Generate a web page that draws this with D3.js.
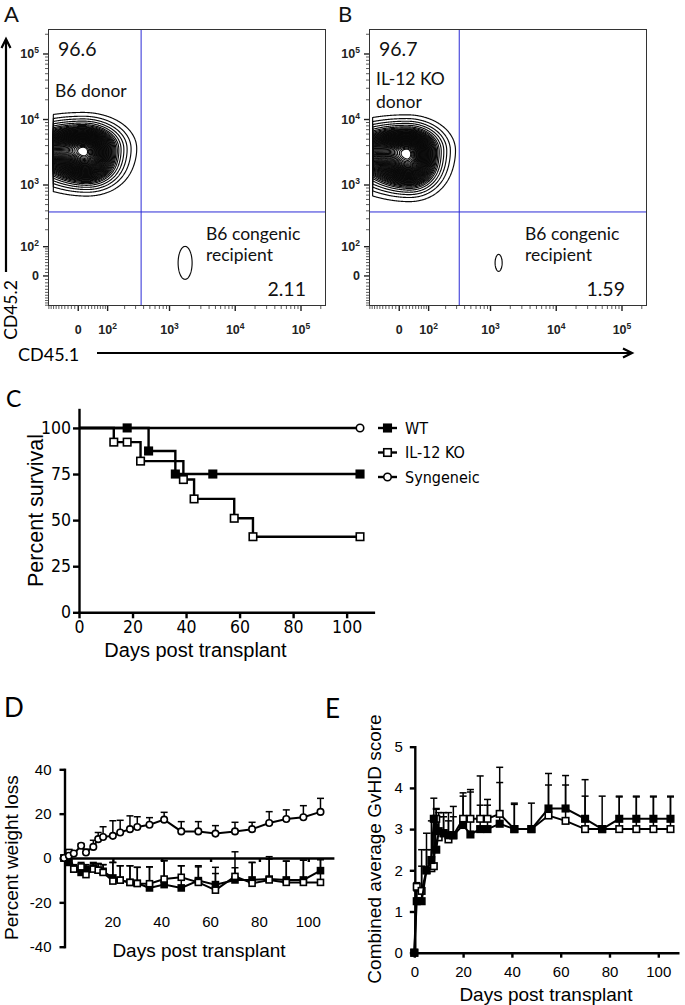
<!DOCTYPE html>
<html><head><meta charset="utf-8">
<script src="https://cdn.jsdelivr.net/npm/d3@7"></script>
<style>
html,body{margin:0;padding:0;background:#fff;}
svg{display:block;}
</style></head>
<body><svg id="c" width="685" height="1005"></svg>
<script>
// ================= DATA =================
// --- A / B : flow cytometry (CD45.1 vs CD45.2) ---
const flowTickValues = [0, 100, 1000, 10000, 100000];
const flowTickBase   = ["0", "10", "10", "10", "10"];
const flowTickExp    = ["", "2", "3", "4", "5"];
// populations: [centre CD45.1 (raw), centre CD45.2 (raw), spread left, right, up, down (decades), lowest CD45.1 (raw)]
const donorA     = [14, 3680, 0.45, 0.27, 0.18, 0.22, -81];
const donorTailA = [30, 1900, 0.30, 0.22, 0.15, 0.16, -81];
const recipientA = [1728, 39, 0.0495, 0.0495, 0.117, 0.117, -81];
const donorB     = [22, 3428, 0.45, 0.245, 0.178, 0.24, -88];
const donorTailB = [35, 1700, 0.30, 0.2, 0.15, 0.17, -88];
const recipientB = [1329, 39, 0.0248, 0.0248, 0.060, 0.060, -88];
const tailWeight = [0.35];
const gateA = [366, 384];   // CD45.1, CD45.2 quadrant gate
const gateB = [330, 384];
const pctA = ["96.6", "2.11"];
const pctB = ["96.7", "1.59"];
const donorLabelA = ["B6 donor"];
const donorLabelB = ["IL-12 KO", "donor"];
const recipientLabel = ["B6 congenic", "recipient"];
const contourLevels = [0.01, 0.025, 0.045, 0.07, 0.1, 0.13, 0.155, 0.18, 0.2, 0.22, 0.24, 0.26, 0.28, 0.3, 0.32, 0.34,
  0.36, 0.38, 0.4, 0.42, 0.44, 0.46, 0.48, 0.5, 0.52, 0.54, 0.56, 0.58, 0.6, 0.62, 0.64, 0.66, 0.68, 0.7, 0.72,
  0.74, 0.76, 0.78, 0.8, 0.82, 0.84, 0.86, 0.88, 0.9, 0.92, 0.94, 0.96, 0.975];
const recipientLevels = [0.1];

// --- C : survival ---
const survXTicks = [0, 20, 40, 60, 80, 100];
const survYTicks = [0, 25, 50, 75, 100];
const wtSurvDays = [0, 26, 36, 105];
const wtSurvPct  = [100, 87.5, 75, 75];
const wtMarkDays = [18, 26, 36, 50, 105];
const wtMarkPct  = [100, 87.5, 75, 75, 75];
const koSurvDays = [0, 13, 23, 39, 43, 58, 65, 105];
const koSurvPct  = [100, 92.3, 82, 72, 61.5, 51, 41, 41];
const koMarkDays = [13, 18, 23, 39, 43, 58, 65, 105];
const koMarkPct  = [92.3, 92.3, 82, 72, 61.5, 51, 41, 41];
const synSurvDays = [0, 105];
const synSurvPct  = [100, 100];
const synMarkDays = [105];
const synMarkPct  = [100];
const legendNames = ["WT", "IL-12 KO", "Syngeneic"];

// --- D : percent weight loss ---
const weightXTicks = [20, 40, 60, 80, 100];
const weightYTicks = [-40, -20, 0, 20, 40];
const weightDays = [0, 2, 4, 7, 9, 12, 14, 16, 20, 23, 27, 30, 35, 41, 48, 55, 62, 70, 77, 84, 91, 98, 105];
const synWeight  = [0, 1, 2, 5.5, 2.5, 5, 8.5, 9.5, 10, 11.5, 13, 14, 15, 17.3, 12, 12, 11, 12, 13, 15.8, 17.6, 18.4, 20.8];
const synWeightErr = [0, 1, 1, 1, 1.5, 3, 3, 4.6, 6.8, 5.5, 6, 4.6, 3.2, 3.3, 4.4, 4.4, 3.6, 4.1, 3.1, 5.1, 4.1, 5.2, 6.1];
const wtWeight   = [0, -2, -5, -6.5, -5, -4.5, -5.5, -6, -9, -10, -11, -11.4, -13.5, -12, -13.5, -10.2, -12, -9.9, -9.9, -9.5, -9.9, -9.9, -5.7];
const wtWeightErr = [0, 1, 1.5, 1.5, 2, 2, 3, 3, 7, 6.5, 7.5, 7.2, 9.5, 10.8, 10, 6.7, 7.8, 5.5, 7.9, 9, 8.5, 8.9, 5];
const koWeight   = [0, 2.5, -5, -4, -7.5, -5, -5.5, -6.5, -10.4, -10, -11, -11.5, -11.6, -9.5, -8.7, -11, -14.5, -8.3, -11.4, -9.9, -11, -11, -11];
const koWeightErr = [0, 1, 2, 2, 3, 3, 3, 3.5, 8.4, 6.5, 7.5, 7.3, 7.6, 8.3, 5.2, 7, 7.5, 11.1, 9.4, 10.5, 9.6, 10, 10.3];

// --- E : combined GvHD score ---
const scoreXTicks = [0, 20, 40, 60, 80, 100];
const scoreYTicks = [0, 1, 2, 3, 4, 5];
const scoreDays = [0, 1, 3, 5, 7, 8, 9, 10, 12, 14, 16, 20, 23, 27, 30, 35, 41, 48, 55, 62, 70, 77, 84, 91, 98, 105];
const wtScore = [0, 1.25, 1.25, 2.0, 2.25, 3.25, 2.5, 2.95, 2.9, 2.85, 2.85, 3.1, 2.87, 3.0, 3.0, 3.13, 3.0, 3.0, 3.5, 3.5, 3.25, 3.0, 3.25, 3.25, 3.25, 3.25];
const wtScoreErr = [0, 0.25, 1.25, 0.9, 0.95, 0.5, 0.98, 0.45, 0.5, 0.55, 0.7, 0.78, 1.09, 1.29, 0.72, 1.37, 0.63, 0.63, 0.85, 0.8, 0.95, 0.8, 0.55, 0.55, 0.55, 0.55];
const koScore = [0, 1.6, 1.5, 2.0, 2.05, 2.1, 3.25, 2.8, 2.9, 2.75, 2.85, 3.25, 3.25, 3.25, 3.25, 3.37, 3.0, 3.0, 3.33, 3.2, 3.0, 3.0, 3.0, 3.0, 3.0, 3.0];
const koScoreErr = [0, 0.1, 0.6, 0.5, 0.45, 0.8, 0.25, 0.5, 0.4, 0.45, 0.45, 0.55, 0.65, 0.33, 0.33, 0.76, 0.6, 0, 0.74, 0.87, 0.8, 0, 0.78, 0.78, 0.78, 0.78];

// ================= DRAWING =================
const svg = d3.select('#c');
const ARIAL = '"Liberation Sans", Arial, sans-serif';
const NARROW = '"Liberation Sans Narrow", "Arial Narrow", "DejaVu Sans Condensed", sans-serif';
const CAL = 'Lato, "Open Sans", sans-serif';

// ---------- flow panels ----------
const T = v => Math.asinh(v / 82) / Math.LN10;
const X_DOM = [-104, 231700], Y_DOM = [-99, 240600];

function minorTicks() {
  const t = [];
  for (let v = -100; v < 100; v += 10) if (v !== 0) t.push(v);
  for (let k = 2; k <= 5; k++) for (let m = 2; m <= 9; m++) { const v = m * Math.pow(10, k); if (v < 231000) t.push(v); }
  return t;
}

function splitGauss(p, u, v) {
  const [cx, cy, sL, sR, sU, sD] = p;
  const du = u - T(cx), dv = v - T(cy);
  const eu = Math.pow(du / (du < 0 ? sL : sR), 2), ev = Math.pow(dv / (dv > 0 ? sU : sD), 2);
  return Math.exp(-0.5 * (eu + ev));
}

function flowPanel(ox, pops, gate, pct, donorLabel, letter, letterX) {
  const g = svg.append('g');
  const x = d3.scaleLinear().domain([T(X_DOM[0]), T(X_DOM[1])]).range([ox, ox + 277]);
  const y = d3.scaleLinear().domain([T(Y_DOM[0]), T(Y_DOM[1])]).range([305, 29]);
  const step = 0.008;
  pops.forEach(([comps, weights, levels]) => {
    const minX = comps[0][6];
    const u0 = T(minX), u1 = x.domain()[1], v0 = y.domain()[0], v1 = y.domain()[1];
    const nx = Math.ceil((u1 - u0) / step), ny = Math.ceil((v1 - v0) / step);
    const vals = new Float64Array(nx * ny);
    let mx = 0;
    for (let j = 0; j < ny; j++) {
      const v = v0 + (j + 0.5) * step;
      for (let i = 0; i < nx; i++) {
        const u = u0 + (i + 0.5) * step;
        let s = 0;
        comps.forEach((c, k) => { s += weights[k] * splitGauss(c, u, v); });
        vals[j * nx + i] = s;
        if (s > mx) mx = s;
      }
    }
    for (let k = 0; k < vals.length; k++) vals[k] /= mx;
    const cs = d3.contours().size([nx, ny]).thresholds(levels)(vals);
    const proj = d3.geoTransform({ point(px, py) { this.stream.point(x(u0 + px * step), y(v0 + py * step)); } });
    const path = d3.geoPath(proj);
    g.append('g').selectAll('path').data(cs).join('path')
      .attr('d', path).attr('fill', 'none').attr('stroke', '#0a0a0a').attr('stroke-width', 1.15);
  });
  // quadrant gate
  g.append('line').attr('x1', x(T(gate[0]))).attr('x2', x(T(gate[0]))).attr('y1', 29).attr('y2', 305)
    .attr('stroke', '#2b2bd6').attr('stroke-width', 1);
  g.append('line').attr('x1', ox).attr('x2', ox + 277).attr('y1', y(T(gate[1]))).attr('y2', y(T(gate[1])))
    .attr('stroke', '#2b2bd6').attr('stroke-width', 1);
  // frame
  g.append('rect').attr('x', ox + 0.5).attr('y', 29.5).attr('width', 277).attr('height', 276)
    .attr('fill', 'none').attr('stroke', '#333').attr('stroke-width', 1);
  // ticks
  const minors = minorTicks();
  g.append('g').selectAll('line').data(minors).join('line')
    .attr('x1', d => x(T(d))).attr('x2', d => x(T(d))).attr('y1', 306).attr('y2', 309)
    .attr('stroke', '#333').attr('stroke-width', 0.8);
  g.append('g').selectAll('line').data(minors).join('line')
    .attr('y1', d => y(T(d))).attr('y2', d => y(T(d))).attr('x1', ox).attr('x2', ox - 3)
    .attr('stroke', '#333').attr('stroke-width', 0.8);
  g.append('g').selectAll('line').data(flowTickValues).join('line')
    .attr('x1', d => x(T(d))).attr('x2', d => x(T(d))).attr('y1', 306).attr('y2', 311)
    .attr('stroke', '#222').attr('stroke-width', 1.4);
  g.append('g').selectAll('line').data(flowTickValues).join('line')
    .attr('y1', d => y(T(d))).attr('y2', d => y(T(d))).attr('x1', ox).attr('x2', ox - 5)
    .attr('stroke', '#222').attr('stroke-width', 1.4);
  const tx = g.append('g').selectAll('text').data(flowTickValues).join('text')
    .attr('x', d => x(T(d))).attr('y', 334).attr('text-anchor', 'middle')
    .attr('font-family', ARIAL).attr('font-size', 12.5).attr('font-weight', 'bold').attr('fill', '#222');
  tx.append('tspan').text((d, i) => flowTickBase[i]);
  tx.append('tspan').attr('dy', -5.5).attr('font-size', 8.5).text((d, i) => flowTickExp[i]);
  const ty = g.append('g').selectAll('text').data(flowTickValues).join('text')
    .attr('x', ox - 9).attr('y', d => y(T(d)) + 4.5).attr('text-anchor', 'end')
    .attr('font-family', ARIAL).attr('font-size', 12.5).attr('font-weight', 'bold').attr('fill', '#222');
  ty.append('tspan').text((d, i) => flowTickBase[i]);
  ty.append('tspan').attr('dy', -5.5).attr('font-size', 8.5).text((d, i) => flowTickExp[i]);
  // texts
  const txt = (s, xx, yy, size, anchor) => g.append('text').attr('x', xx).attr('y', yy).text(s)
    .attr('font-family', CAL).attr('font-size', size).attr('text-anchor', anchor || 'start').attr('fill', '#111');
  txt(pct[0], ox + 10, 56, 19.5);
  donorLabel.forEach((s, i) => txt(s, ox + 7, (donorLabel.length === 1 ? 97 : 85) + i * 23, 17.5));
  recipientLabel.forEach((s, i) => txt(s, ox + (letter === 'A' ? 158 : 156), 239.5 + i * 21, 17.5));
  txt(pct[1], ox + (letter === 'A' ? 258 : 256), 296, 19.5, 'end');
  txt(letter, letterX, 22, 22);
}

flowPanel(48, [[[donorA, donorTailA], [1, tailWeight[0]], contourLevels], [[recipientA], [1], recipientLevels]], gateA, pctA, donorLabelA, 'A', 4);
flowPanel(369, [[[donorB, donorTailB], [1, tailWeight[0]], contourLevels], [[recipientB], [1], recipientLevels]], gateB, pctB, donorLabelB, 'B', 338);

// axis arrows
svg.append('line').attr('x1', 6).attr('x2', 6).attr('y1', 272).attr('y2', 40).attr('stroke', '#000').attr('stroke-width', 2.2);
svg.append('path').attr('d', 'M1.5,48 L6,39 L10.5,48').attr('fill', 'none').attr('stroke', '#000').attr('stroke-width', 2.2);
svg.append('line').attr('x1', 97).attr('x2', 631).attr('y1', 353).attr('y2', 353).attr('stroke', '#000').attr('stroke-width', 2.2);
svg.append('path').attr('d', 'M623,348.5 L632,353 L623,357.5').attr('fill', 'none').attr('stroke', '#000').attr('stroke-width', 2.2);
svg.append('text').attr('transform', 'translate(17,310) rotate(-90)').attr('text-anchor', 'middle')
  .attr('font-family', CAL).attr('font-size', 17.5).text('CD45.2');
svg.append('text').attr('x', 18).attr('y', 361).attr('font-family', CAL).attr('font-size', 18).text('CD45.1');

// ---------- helpers ----------
function styleAxis(sel, font, size, width) {
  sel.select('.domain').attr('stroke-width', width).attr('stroke-linecap', 'square');
  sel.selectAll('.tick line').attr('stroke-width', width);
  sel.selectAll('.tick text').attr('font-family', font).attr('font-size', size).attr('fill', '#000');
  sel.attr('font-family', null).attr('font-size', null);
}
function marker(g, type, cx, cy, s) {
  if (type === 'circle') {
    g.append('circle').attr('cx', cx).attr('cy', cy).attr('r', s / 2).attr('fill', '#fff').attr('stroke', '#000').attr('stroke-width', 1.6);
  } else {
    g.append('rect').attr('x', cx - s / 2).attr('y', cy - s / 2).attr('width', s).attr('height', s)
      .attr('fill', type === 'filled' ? '#000' : '#fff').attr('stroke', '#000').attr('stroke-width', 1.6);
  }
}
const intFmt = d => String(d);

// ---------- C: survival ----------
{
  const g = svg.append('g');
  const x = d3.scaleLinear().domain([0, 110]).range([79, 373.4]);
  const y = d3.scaleLinear().domain([0, 110]).range([612.3, 409.5]);
  const ax = g.append('g').attr('transform', 'translate(0,612.3)')
    .call(d3.axisBottom(x).tickValues(survXTicks).tickFormat(intFmt).tickSize(6).tickSizeOuter(0).tickPadding(2));
  styleAxis(ax, NARROW, 17.5, 2.4);
  const ay = g.append('g').attr('transform', 'translate(79,0)')
    .call(d3.axisLeft(y).tickValues(survYTicks).tickFormat(intFmt).tickSize(6).tickSizeOuter(0).tickPadding(2));
  styleAxis(ay, NARROW, 17.5, 2.4);
  const line = d3.line().x(d => x(d[0])).y(d => y(d[1])).curve(d3.curveStepAfter);
  const series = [
    [synSurvDays, synSurvPct, synMarkDays, synMarkPct, 'circle'],
    [koSurvDays, koSurvPct, koMarkDays, koMarkPct, 'open'],
    [wtSurvDays, wtSurvPct, wtMarkDays, wtMarkPct, 'filled']
  ];
  series.forEach(([d, p]) => {
    g.append('path').attr('d', line(d.map((v, i) => [v, p[i]]))).attr('fill', 'none').attr('stroke', '#000').attr('stroke-width', 2.4);
  });
  series.forEach(([, , md, mp, type]) => md.forEach((v, i) => marker(g, type, x(v), y(mp[i]), 7.5)));
  // legend
  const types = ['filled', 'open', 'circle'];
  legendNames.forEach((name, i) => {
    const ly = 428 + i * 24.5;
    g.append('line').attr('x1', 378).attr('x2', 397).attr('y1', ly).attr('y2', ly).attr('stroke', '#000').attr('stroke-width', 2.4);
    marker(g, types[i], 387.5, ly, 7.5);
    g.append('text').attr('x', 405).attr('y', ly + 5.6).attr('font-family', NARROW).attr('font-size', 16).text(name);
  });
  g.append('text').attr('transform', 'translate(43,510.5) rotate(-90)').attr('text-anchor', 'middle')
    .attr('font-family', ARIAL).attr('font-size', 21.5).text('Percent survival');
  g.append('text').attr('x', 195.5).attr('y', 657).attr('text-anchor', 'middle')
    .attr('font-family', ARIAL).attr('font-size', 20).text('Days post transplant');
  g.append('text').attr('x', 6).attr('y', 406.5).attr('font-family', CAL).attr('font-size', 23).text('C');
}

// ---------- D: weight loss ----------
function errBars(g, x, y, days, vals, errs, cap) {
  days.forEach((d, i) => {
    if (!(errs[i] > 0)) return;
    const cx = x(d), y0 = y(vals[i]), y1 = y(vals[i] + errs[i]);
    g.append('line').attr('x1', cx).attr('x2', cx).attr('y1', y0).attr('y2', y1).attr('stroke', '#000').attr('stroke-width', 1.5);
    g.append('line').attr('x1', cx - cap / 2).attr('x2', cx + cap / 2).attr('y1', y1).attr('y2', y1).attr('stroke', '#000').attr('stroke-width', 1.5);
  });
}
function series(g, x, y, days, vals, type, size) {
  const line = d3.line().x((d, i) => x(days[i])).y(d => y(d));
  g.append('path').attr('d', line(vals)).attr('fill', 'none').attr('stroke', '#000').attr('stroke-width', 2);
  vals.forEach((v, i) => marker(g, type, x(days[i]), y(v), size));
}
{
  const g = svg.append('g');
  const x = d3.scaleLinear().domain([0, 110]).range([64, 332.7]);
  const y = d3.scaleLinear().domain([-40, 40]).range([946.7, 769.3]);
  const ay = g.append('g').attr('transform', 'translate(64.5,0)')
    .call(d3.axisLeft(y).tickValues(weightYTicks).tickFormat(intFmt).tickSize(5).tickSizeOuter(0).tickPadding(8));
  styleAxis(ay, ARIAL, 15, 2.4);
  const ax = g.append('g').attr('transform', `translate(0,${y(0)})`)
    .call(d3.axisBottom(x).tickValues(weightXTicks).tickSize(4).tickSizeOuter(0).tickFormat(''));
  styleAxis(ax, ARIAL, 15, 2.4);
  g.append('g').selectAll('text').data(weightXTicks).join('text')
    .attr('x', d => x(d)).attr('y', 926.7).attr('text-anchor', 'middle')
    .attr('font-family', ARIAL).attr('font-size', 15).text(d => d);
  errBars(g, x, y, weightDays, synWeight, synWeightErr, 7);
  errBars(g, x, y, weightDays, wtWeight, wtWeightErr, 7);
  errBars(g, x, y, weightDays, koWeight, koWeightErr, 7);
  series(g, x, y, weightDays, wtWeight, 'filled', 6);
  series(g, x, y, weightDays, koWeight, 'open', 6);
  series(g, x, y, weightDays, synWeight, 'circle', 6.5);
  g.append('text').attr('transform', 'translate(17.5,857.5) rotate(-90)').attr('text-anchor', 'middle')
    .attr('font-family', ARIAL).attr('font-size', 19).text('Percent weight loss');
  g.append('text').attr('x', 199).attr('y', 957).attr('text-anchor', 'middle')
    .attr('font-family', ARIAL).attr('font-size', 19).text('Days post transplant');
  g.append('text').attr('x', 4).attr('y', 717).attr('font-family', CAL).attr('font-size', 26).text('D');
}

// ---------- E: GvHD score ----------
{
  const g = svg.append('g');
  const x = d3.scaleLinear().domain([0, 108]).range([414.3, 677.8]);
  const y = d3.scaleLinear().domain([0, 5]).range([952.7, 746.7]);
  const ay = g.append('g').attr('transform', 'translate(414.8,0)')
    .call(d3.axisLeft(y).tickValues(scoreYTicks).tickFormat(intFmt).tickSize(5).tickSizeOuter(0).tickPadding(7));
  styleAxis(ay, ARIAL, 15, 2.4);
  const ax = g.append('g').attr('transform', 'translate(0,952.7)')
    .call(d3.axisBottom(x).tickValues(scoreXTicks).tickFormat(intFmt).tickSize(5).tickSizeOuter(0).tickPadding(9));
  styleAxis(ax, ARIAL, 15, 2.4);
  errBars(g, x, y, scoreDays, wtScore, wtScoreErr, 7);
  errBars(g, x, y, scoreDays, koScore, koScoreErr, 7);
  series(g, x, y, scoreDays, koScore, 'open', 6.5);
  series(g, x, y, scoreDays, wtScore, 'filled', 6.5);
  g.append('text').attr('transform', 'translate(381,849) rotate(-90)').attr('text-anchor', 'middle')
    .attr('font-family', ARIAL).attr('font-size', 19).text('Combined average GvHD score');
  g.append('text').attr('x', 546).attr('y', 1001).attr('text-anchor', 'middle')
    .attr('font-family', ARIAL).attr('font-size', 19).text('Days post transplant');
  g.append('text').attr('x', 325).attr('y', 718).attr('font-family', CAL).attr('font-size', 26).text('E');
}
</script>
</body></html>
